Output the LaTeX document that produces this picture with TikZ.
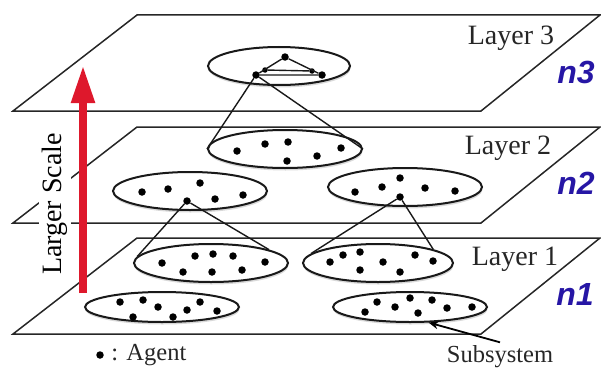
\documentclass[tikz,border=0pt]{standalone}
\usepackage{fontspec}
\setmainfont{Liberation Serif}
\newfontfamily\countfont{Liberation Sans}
\usepackage{tikz}
\usetikzlibrary{shapes.geometric, arrows.meta, shadows, positioning}
\definecolor{scalered}{RGB}{222,24,44}
\definecolor{countblue}{RGB}{38,22,165}
\tikzstyle{plane} = [line width=1.5pt, draw=black!85]
\tikzstyle{subsys} = [ellipse, 
minimum width=154pt, 
minimum height=38pt, 
line width=2pt, 
draw=black!90, 
fill=white, 
drop shadow={opacity=0.3, shadow xshift=0.5pt, shadow yshift=-2.5pt}]
\tikzstyle{agent} = [circle, fill=black, inner sep=0pt, minimum size=7.5pt]
\tikzstyle{link} = [line width=1.4pt, draw=black!90]
\tikzstyle{layerlabel} = [font=\fontsize{28}{30}\selectfont, text=black!85]
\tikzstyle{countlabel} = [font=\countfont\bfseries\itshape\fontsize{32}{34}\selectfont, text=countblue]
\tikzstyle{legend} = [font=\fontsize{24.5}{26}\selectfont, text=black!85]
\tikzstyle{arrow} = [line width=1.8pt, -{Stealth[length=10pt, width=8pt]}]
\tikzstyle{scalearrow} = [line width=8pt, draw=scalered, -{Triangle[length=38pt, width=22pt]}]

\begin{document}
\begin{tikzpicture}[x=1pt, y=-1pt]
    \useasboundingbox (0,0) rectangle (601,369);

    % Layer planes
    \foreach \t in {15,127,238}
      \draw [plane] (137,\t) -- (600,\t) -- (481,\t+96) -- (13,\t+96) -- cycle;

    % Subsystems
    \node (l3a) [subsys, minimum width=142pt] at (279,66) {};
    \node (l2b) [subsys] at (285,149) {};
    \node (l2a) [subsys] at (190,191) {};
    \node (l2c) [subsys] at (405,187) {};
    \node (l1a) [subsys] at (211,263) {};
    \node (l1b) [subsys, minimum width=150pt] at (378,263) {};
    \node (l1c) [subsys, minimum height=30pt] at (162,307) {};
    \node (l1d) [subsys, minimum height=30pt] at (410,307) {};

    % Agents
    \node (t1) [agent] at (256,75) {};
    \node (t2) [agent] at (285,57) {};
    \node (t3) [agent] at (322,75) {};
    \node (t4) [agent, minimum size=5.5pt] at (265,70) {};
    \node (t5) [agent, minimum size=5.5pt] at (312,71) {};
    \node (hub2a) [agent] at (187,201) {};
    \node (hub2c) [agent] at (400,197) {};
    \foreach \p [count=\i] in {(237,151),(265,144),(288,142),(287,161),(317,156),(341,148)}
      \node (a2b-\i) [agent] at \p {};
    \foreach \p [count=\i] in {(142,192),(168,189),(200,183),(215,199),(243,195)}
      \node (a2a-\i) [agent] at \p {};
    \foreach \p [count=\i] in {(355,192),(382,187),(400,178),(425,188),(455,191)}
      \node (a2c-\i) [agent] at \p {};
    \foreach \p [count=\i] in {(162,263),(183,272),(195,256),(213,254),(212,272),(233,256),(242,270),(265,262)}
      \node (a1a-\i) [agent] at \p {};
    \foreach \p [count=\i] in {(330,262),(343,255),(360,252),(360,270),(383,262),(400,272),(415,255),(433,261)}
      \node (a1b-\i) [agent] at \p {};
    \foreach \p [count=\i] in {(120,302),(143,300),(158,307),(133,317),(173,317),(187,310),(200,302),(217,311)}
      \node (a1c-\i) [agent] at \p {};
    \foreach \p [count=\i] in {(365,312),(377,302),(395,307),(410,298),(418,313),(432,300),(447,308),(472,307)}
      \node (a1d-\i) [agent] at \p {};

    % Links inside the top subsystem
    \draw [link] (t1) -- (t2) -- (t3) -- (t1);
    \draw [link] (t4) -- (t5);

    % Cones down to the next layer
    \draw [link] (t1) -- (l2b.west);
    \draw [link] (t1) -- (l2b.east);
    \draw [link] (hub2a) -- (l1a.175);
    \draw [link] (hub2a) -- (l1a.13);
    \draw [link] (hub2c) -- (l1b.172);
    \draw [link] (hub2c) -- (l1b.14);

    % Labels
    \node (lay3) [layerlabel] at (511,38) {Layer 3};
    \node (lay2) [layerlabel] at (508,148) {Layer 2};
    \node (lay1) [layerlabel] at (515,259) {Layer 1};
    \node (n3) [countlabel] at (576,72) {n3};
    \node (n2) [countlabel] at (576,183) {n2};
    \node (n1) [countlabel] at (575,294) {n1};

    % Scale arrow
    \node (scaletxt) [layerlabel, text=black, rotate=90, fill=white, inner sep=3pt] at (55,204) {Larger Scale};
    \coordinate (scalebot) at (83,293);
    \coordinate (scaletop) at (83,65);
    \draw [scalearrow] (scalebot) -- (scaletop);

    % Legend
    \node (legdot) [agent] at (100,355) {};
    \node (legtxt) [legend, right=4pt of legdot] {: Agent};
    \node (subtxt) [legend] at (500,357) {Subsystem};
    \draw [arrow] (subtxt.north) -- (l1d.-40);
\end{tikzpicture}
\end{document}
